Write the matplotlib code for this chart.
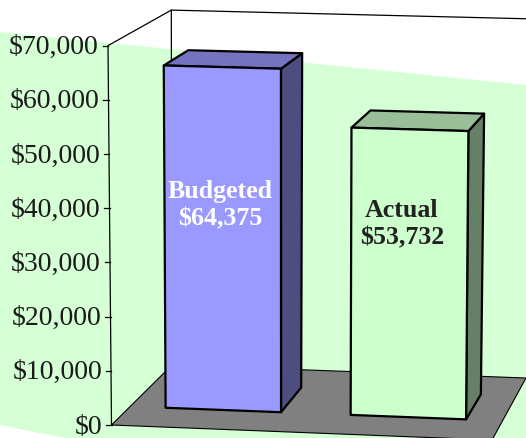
import matplotlib
matplotlib.use('Agg')
import matplotlib.pyplot as plt
from matplotlib.patches import Polygon

plt.rcParams['font.family'] = ['Liberation Serif', 'DejaVu Serif']

categories = ['Budgeted', 'Actual']
values = [64375, 53732]
tick_values = [0, 10000, 20000, 30000, 40000, 50000, 60000, 70000]

# style
bar_centers = [0.25, 0.747]
bar_width = 0.31
bar_depth = (0.31, 0.715)
front_colors = ['#9999FF', '#CCFFCC']
top_colors = ['#7373BF', '#99BF99']
side_colors = ['#4D4D80', '#668066']
text_colors = ['white', '#222222']
label_pos = [(220, 205), (402, 224)]
back_color = '#D5FFD5'
floor_color = '#808080'

# floor corners in pixels
FL = (111.5, 425)
FR = (492, 440)
BL = (172, 365)
BR = (526, 378)


def project(x, z, v):
    # x across the floor 0-1, z depth 0-1, v dollars
    px = (1-x)*(1-z)*FL[0] + x*(1-z)*FR[0] + (1-x)*z*BL[0] + x*z*BR[0]
    py = (1-x)*(1-z)*FL[1] + x*(1-z)*FR[1] + (1-x)*z*BL[1] + x*z*BR[1]
    k = 54.2 - 3.5*z + 0.6*x
    shear = -0.5 + 0.9*x + 0.4*z
    return (px + shear*v/10000, py - k*v/10000)


fig = plt.figure(figsize=(5.26, 4.38), dpi=100)
ax = fig.add_axes([0, 0, 1, 1])
ax.set_xlim(0, 526)
ax.set_ylim(438, 0)
ax.axis('off')

# slanted green background
ax.add_patch(Polygon([(0, 32), (526, 85), (526, 438), (65, 438), (0, 425)],
                     facecolor=back_color, edgecolor='none', zorder=1))

top = tick_values[-1]

# walls
ax.plot(*zip(project(0, 0, 0), project(0, 0, top), project(0, 1, top), project(1, 1, top)),
        color='black', lw=0.9, zorder=2)
ax.plot(*zip(project(0, 1, 0), project(0, 1, top)), color='black', lw=0.9, zorder=2)

# floor
floor = [project(0, 0, 0), project(1, 0, 0), project(1, 1, 0), project(0, 1, 0)]
ax.add_patch(Polygon(floor, facecolor=floor_color, edgecolor='black', lw=0.8, zorder=3))

# axis ticks and labels
for t in tick_values:
    px, py = project(0, 0, t)
    ax.plot([px-5.5, px], [py, py], color='black', lw=0.9, zorder=4)
    ax.text(px-9, py+2, '${:,}'.format(t), ha='right', va='center',
            fontsize=20, color='#1a1a1a', zorder=6)

# bars
for i in range(len(categories)):
    x0 = bar_centers[i] - bar_width/2
    x1 = bar_centers[i] + bar_width/2
    z0, z1 = bar_depth
    v = values[i]
    edge = dict(edgecolor='black', lw=1.6, joinstyle='round', zorder=5)
    ax.add_patch(Polygon([project(x1, z0, 0), project(x1, z1, 0), project(x1, z1, v), project(x1, z0, v)],
                         facecolor=side_colors[i], **edge))
    ax.add_patch(Polygon([project(x0, z0, v), project(x1, z0, v), project(x1, z1, v), project(x0, z1, v)],
                         facecolor=top_colors[i], **edge))
    ax.add_patch(Polygon([project(x0, z0, 0), project(x1, z0, 0), project(x1, z0, v), project(x0, z0, v)],
                         facecolor=front_colors[i], **edge))
    ax.text(label_pos[i][0], label_pos[i][1], '{}\n${:,}'.format(categories[i], v),
            ha='center', va='center', ma='center', fontsize=18.6, fontweight='bold',
            color=text_colors[i], linespacing=1.22, zorder=6)

plt.savefig('out.png', dpi=100)
